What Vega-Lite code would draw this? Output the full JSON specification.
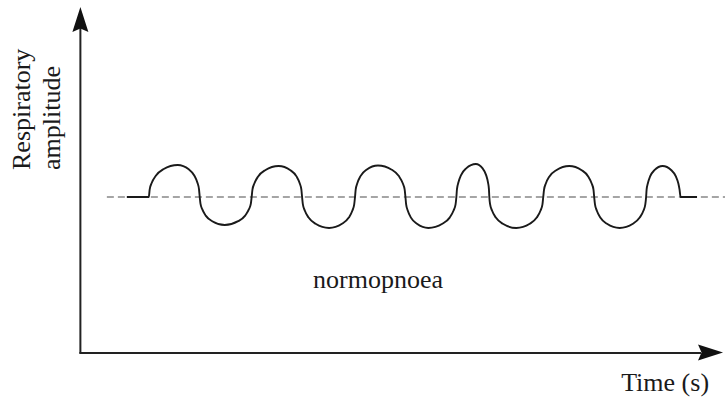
{
  "$schema": "https://vega.github.io/schema/vega-lite/v6.json",
  "width": 726,
  "height": 397,
  "autosize": {"type": "fit", "contains": "padding"},
  "padding": 0,
  "background": "white",
  "config": {"view": {"stroke": null}},
  "encoding": {
    "x": {"field": "t", "type": "quantitative", "scale": {"domain": [0, 726], "nice": false, "zero": false}, "axis": null},
    "y": {"field": "amp", "type": "quantitative", "scale": {"domain": [-200, 197], "nice": false, "zero": false}, "axis": null}
  },
  "layer": [
    {
      "data": {"values": [{"t": 107, "t2": 726, "amp": 0}]},
      "mark": {"type": "rule", "color": "#4d4d4d", "strokeWidth": 1.2, "strokeDash": [7, 4]},
      "encoding": {"x2": {"field": "t2"}}
    },
    {
      "data": {"values": [
        {"t": 127, "amp": 0}, {"t": 149, "amp": 0},
        {"t": 149.9, "amp": 7.7}, {"t": 151.9, "amp": 14}, {"t": 156, "amp": 21.2}, {"t": 163.5, "amp": 27.7}, {"t": 178, "amp": 32}, {"t": 189, "amp": 27.7}, {"t": 194.7, "amp": 21.2}, {"t": 197.8, "amp": 14}, {"t": 199.3, "amp": 7.7}, {"t": 200, "amp": 0},
        {"t": 200.75, "amp": -6.7}, {"t": 202.5, "amp": -12.2}, {"t": 206, "amp": -18.6}, {"t": 212.5, "amp": -24.2}, {"t": 225, "amp": -28}, {"t": 238.5, "amp": -24.2}, {"t": 245.5, "amp": -18.6}, {"t": 249.3, "amp": -12.2}, {"t": 251.2, "amp": -6.7}, {"t": 252, "amp": 0},
        {"t": 252.8, "amp": 7.4}, {"t": 254.7, "amp": 13.5}, {"t": 258.5, "amp": 20.6}, {"t": 265.5, "amp": 26.8}, {"t": 279, "amp": 31}, {"t": 290.8, "amp": 26.8}, {"t": 296.9, "amp": 20.6}, {"t": 300.2, "amp": 13.5}, {"t": 301.8, "amp": 7.4}, {"t": 302.5, "amp": 0},
        {"t": 303.3, "amp": -7.4}, {"t": 305.2, "amp": -13.5}, {"t": 309, "amp": -20.6}, {"t": 316, "amp": -26.8}, {"t": 329.5, "amp": -31}, {"t": 342.5, "amp": -26.8}, {"t": 349.3, "amp": -20.6}, {"t": 352.9, "amp": -13.5}, {"t": 354.7, "amp": -7.4}, {"t": 355.5, "amp": 0},
        {"t": 356.2, "amp": 7.6}, {"t": 357.8, "amp": 13.7}, {"t": 361, "amp": 20.9}, {"t": 367, "amp": 27.3}, {"t": 378.5, "amp": 31.5}, {"t": 392.3, "amp": 27.3}, {"t": 399.4, "amp": 20.9}, {"t": 403.3, "amp": 13.7}, {"t": 405.2, "amp": 7.6}, {"t": 406, "amp": 0},
        {"t": 406.7, "amp": -7.4}, {"t": 408.3, "amp": -13.5}, {"t": 411.5, "amp": -20.6}, {"t": 417.5, "amp": -26.8}, {"t": 429, "amp": -31}, {"t": 443, "amp": -26.8}, {"t": 450.3, "amp": -20.6}, {"t": 454.2, "amp": -13.5}, {"t": 456.2, "amp": -7.4}, {"t": 457, "amp": 0},
        {"t": 457.6, "amp": 7.9}, {"t": 459, "amp": 14.4}, {"t": 461.7, "amp": 21.9}, {"t": 466.8, "amp": 28.6}, {"t": 476.5, "amp": 33}, {"t": 483.3, "amp": 28.6}, {"t": 486.8, "amp": 21.9}, {"t": 488.7, "amp": 14.4}, {"t": 489.6, "amp": 7.9}, {"t": 490, "amp": 0},
        {"t": 490.8, "amp": -7.4}, {"t": 492.7, "amp": -13.5}, {"t": 496.5, "amp": -20.6}, {"t": 503.5, "amp": -26.8}, {"t": 517, "amp": -31}, {"t": 530.5, "amp": -26.8}, {"t": 537.5, "amp": -20.6}, {"t": 541.3, "amp": -13.5}, {"t": 543.2, "amp": -7.4}, {"t": 544, "amp": 0},
        {"t": 544.8, "amp": 7.4}, {"t": 546.6, "amp": 13.5}, {"t": 550.2, "amp": 20.6}, {"t": 557, "amp": 26.8}, {"t": 570, "amp": 31}, {"t": 582.5, "amp": 26.8}, {"t": 589, "amp": 20.6}, {"t": 592.5, "amp": 13.5}, {"t": 594.3, "amp": 7.4}, {"t": 595, "amp": 0},
        {"t": 595.8, "amp": -7.4}, {"t": 597.6, "amp": -13.5}, {"t": 601.1, "amp": -20.6}, {"t": 607.8, "amp": -26.8}, {"t": 620.5, "amp": -31}, {"t": 633.8, "amp": -26.8}, {"t": 640.6, "amp": -20.6}, {"t": 644.4, "amp": -13.5}, {"t": 646.2, "amp": -7.4}, {"t": 647, "amp": 0},
        {"t": 647.5, "amp": 7.4}, {"t": 648.7, "amp": 13.5}, {"t": 651, "amp": 20.6}, {"t": 655.3, "amp": 26.8}, {"t": 663.5, "amp": 31}, {"t": 672.3, "amp": 26.8}, {"t": 676.8, "amp": 20.6}, {"t": 679.3, "amp": 13.5}, {"t": 680.5, "amp": 7.4}, {"t": 681.5, "amp": 0},
        {"t": 698, "amp": 0}
      ]},
      "mark": {"type": "line", "interpolate": "monotone", "color": "#1a1a1a", "strokeWidth": 1.9},
      "encoding": {"order": {"field": "t", "type": "quantitative"}}
    },
    {
      "data": {"values": [
        {"t": 80.5, "t2": 80.5, "amp": -156.5, "amp2": 170},
        {"t": 79.5, "t2": 702, "amp": -156, "amp2": -156}
      ]},
      "mark": {"type": "rule", "color": "#222222", "strokeWidth": 2},
      "encoding": {"x2": {"field": "t2"}, "y2": {"field": "amp2"}}
    },
    {
      "data": {"values": [{"t": 80.5, "amp": 177.5}]},
      "mark": {"type": "point", "filled": true, "opacity": 1, "color": "#111111", "shape": "M0,-1L0.64,1L0,0.72L-0.64,1Z", "size": 625, "angle": 0},
      "encoding": {}
    },
    {
      "data": {"values": [{"t": 711.5, "amp": -155.5}]},
      "mark": {"type": "point", "filled": true, "opacity": 1, "color": "#111111", "shape": "M0,-1L0.64,1L0,0.72L-0.64,1Z", "size": 625, "angle": 90},
      "encoding": {}
    },
    {
      "data": {"values": [
        {"t": 378.5, "amp": -91, "label": "normopnoea"},
        {"t": 666, "amp": -194, "label": "Time (s)"}
      ]},
      "mark": {"type": "text", "font": "Liberation Serif", "fontSize": 26, "color": "#1a1a1a", "align": "center", "baseline": "alphabetic"},
      "encoding": {"text": {"field": "label", "type": "nominal"}}
    },
    {
      "data": {"values": [{"t": 30, "amp": 27, "label": "Respiratory\namplitude"}]},
      "mark": {"type": "text", "font": "Liberation Serif", "fontSize": 26, "color": "#1a1a1a", "align": "left", "baseline": "alphabetic", "angle": 270, "lineBreak": "\n", "lineHeight": 30},
      "encoding": {"text": {"field": "label", "type": "nominal"}}
    }
  ]
}
